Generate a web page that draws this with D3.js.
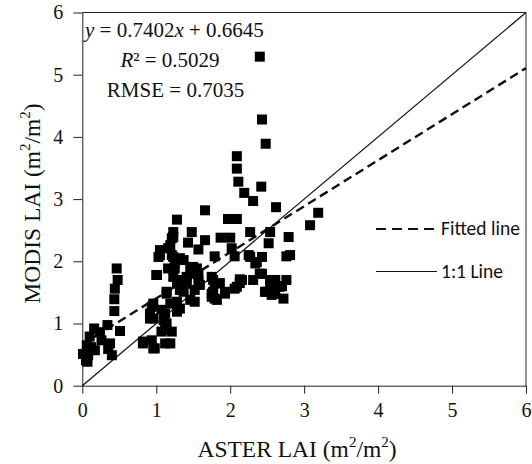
<!DOCTYPE html>
<html>
<head>
<meta charset="utf-8">
<script src="https://cdn.jsdelivr.net/npm/d3@7"></script>
<style>
  html, body { margin: 0; padding: 0; background: #fff; }
  svg { display: block; }
</style>
</head>
<body>
<svg id="chart" width="532" height="464"></svg>
<script>
// ---- data ----
const xTicks = [0, 1, 2, 3, 4, 5, 6];
const yTicks = [0, 1, 2, 3, 4, 5, 6];
const asterLAI = [
  0.01,0.05,0.07,0.08,0.06,0.10,0.16,0.17,0.26,0.34,0.35,0.375,0.40,0.51,0.433,0.433,0.44,0.478,0.465,0.24,0.12,
  0.82,0.82,0.94,0.96,0.98,1.12,1.07,1.12,1.21,1.19,1.14,0.915,0.96,1.10,0.915,1.12,0.94,1.07,0.96,1.19,1.32,1.28,
  1.14,1.37,1.14,1.28,1.41,1.59,1.79,1.52,1.75,1.28,1.46,1.82,1.01,1.00,1.23,1.41,1.57,1.75,1.50,1.16,1.25,1.46,
  1.55,1.50,1.25,1.03,1.23,1.37,1.32,1.05,1.21,1.05,1.16,1.19,1.57,1.43,1.21,1.23,1.23,1.48,1.28,1.66,1.28,1.41,
  1.57,1.77,1.32,1.52,1.75,1.93,1.86,
  1.79,2.06,2.27,2.43,2.76,2.81,2.34,2.36,2.40,2.43,2.13,2.16,2.31,2.54,2.61,2.76,2.70,2.67,2.09,2.06,2.13,2.54,
  2.47,2.49,2.61,2.58,2.72,2.56,1.77,1.79,1.93,1.87,2.00,2.02,2.27,2.54,2.52,2.79,1.97,2.09,2.11,2.09,2.09,2.19,
  2.31,2.42,2.62,2.48,2.43,2.40,3.19,3.08,2.25,1.66
];
const modisLAI = [
  0.51,0.41,0.385,0.49,0.65,0.79,0.92,0.57,0.73,0.975,0.59,0.68,0.49,0.88,1.20,1.39,1.56,1.70,1.885,0.86,0.62,
  0.68,0.71,0.73,0.60,0.60,0.68,0.87,0.895,0.87,0.68,1.00,1.08,1.08,1.055,1.16,1.16,1.27,1.22,1.32,1.32,1.24,1.19,
  1.48,1.51,1.51,1.64,1.64,1.62,1.64,1.35,1.43,1.35,1.38,1.38,1.78,1.78,1.75,1.75,1.78,1.75,1.80,1.885,1.885,1.885,
  1.885,1.91,1.97,2.07,2.07,2.02,2.05,2.10,2.10,2.18,2.21,2.26,2.19,2.30,2.37,2.39,2.47,2.47,2.67,2.82,1.70,1.70,
  1.70,1.70,1.54,1.54,1.48,1.48,1.65,
  2.08,2.08,2.07,2.07,2.08,2.10,1.965,1.99,1.80,1.80,1.71,1.70,1.70,1.70,1.70,1.70,1.60,1.59,1.59,1.56,1.65,1.62,
  1.51,1.51,1.48,1.48,1.40,1.46,1.51,1.40,1.51,2.38,2.38,2.21,2.47,2.47,2.29,2.39,2.68,2.68,3.28,3.49,3.69,3.10,
  2.97,3.20,2.87,3.89,4.28,5.29,2.78,2.58,2.10,2.34
];
const fitSlope = 0.7402;
const fitIntercept = 0.6645;
const fitRange = [0, 6];
const oneToOneRange = [0, 6];
const annotation = ["y = 0.7402x + 0.6645", "R² = 0.5029", "RMSE = 0.7035"];
const legendLabels = ["Fitted line", "1:1 Line"];

// ---- layout ----
const svg = d3.select("#chart");
const mLeft = 82.3, mRight = 526, mTop = 12.5, mBottom = 385.7;
const x = d3.scaleLinear().domain([0, 6]).range([mLeft, mRight]);
const y = d3.scaleLinear().domain([0, 6]).range([mBottom, mTop]);
const serif = "'Liberation Serif', 'Times New Roman', serif";
const sans = "Carlito, Lato, 'Liberation Sans', sans-serif";

// frame (top & right)
svg.append("line").attr("x1", mLeft).attr("x2", mRight).attr("y1", mTop).attr("y2", mTop)
  .attr("stroke", "#222").attr("stroke-width", 1);
svg.append("line").attr("x1", mRight).attr("x2", mRight).attr("y1", mTop).attr("y2", mBottom)
  .attr("stroke", "#222").attr("stroke-width", 1);

// axes
const xAxis = svg.append("g").attr("transform", `translate(0,${mBottom})`)
  .call(d3.axisBottom(x).tickValues(xTicks).tickFormat(d3.format("d")).tickSizeInner(8).tickSizeOuter(0).tickPadding(9));
const yAxis = svg.append("g").attr("transform", `translate(${mLeft},0)`)
  .call(d3.axisLeft(y).tickValues(yTicks).tickFormat(d3.format("d")).tickSizeInner(9).tickSizeOuter(0).tickPadding(10));
[xAxis, yAxis].forEach(g => {
  g.attr("font-family", serif).attr("font-size", 20);
  g.select(".domain").attr("stroke", "#222").attr("stroke-width", 1);
  g.selectAll(".tick line").attr("stroke", "#222").attr("stroke-width", 1);
  g.selectAll(".tick text")
    .style("font-family", serif).style("font-size", "20px").attr("fill", "#111");
});
xAxis.selectAll(".tick text").attr("dy", "0.71em");

// lines
const line = d3.line().x(d => x(d[0])).y(d => y(d[1]));
svg.append("path")
  .datum(oneToOneRange.map(v => [v, v]))
  .attr("d", line).attr("fill", "none").attr("stroke", "#111").attr("stroke-width", 1.2);
svg.append("path")
  .datum(fitRange.map(v => [v, fitSlope * v + fitIntercept]))
  .attr("d", line).attr("fill", "none").attr("stroke", "#111").attr("stroke-width", 2.4)
  .attr("stroke-dasharray", "9,5");

// points
const pts = asterLAI.map((v, i) => [v, modisLAI[i]]);
const s = 10;
svg.append("g").selectAll("rect").data(pts).join("rect")
  .attr("x", d => x(d[0]) - s / 2).attr("y", d => y(d[1]) - s / 2)
  .attr("width", s).attr("height", s).attr("fill", "#000");

// annotation
const ann = svg.append("g").style("font-family", serif).style("font-size", "21px").attr("fill", "#111");
const t1 = ann.append("text").attr("x", 85).attr("y", 37);
t1.append("tspan").attr("font-style", "italic").text("y");
t1.append("tspan").text(" = 0.7402");
t1.append("tspan").attr("font-style", "italic").text("x");
t1.append("tspan").text(" + 0.6645");
const t2 = ann.append("text").attr("x", 170).attr("y", 66.5).attr("text-anchor", "middle");
t2.append("tspan").attr("font-style", "italic").text("R");
t2.append("tspan").text("² = 0.5029");
ann.append("text").attr("x", 175.5).attr("y", 96.5).attr("text-anchor", "middle").text(annotation[2]);

// legend
const lg = svg.append("g");
lg.append("line").attr("x1", 376).attr("x2", 437).attr("y1", 229).attr("y2", 229)
  .attr("stroke", "#111").attr("stroke-width", 2).attr("stroke-dasharray", "10,6");
lg.append("line").attr("x1", 376).attr("x2", 437).attr("y1", 271.5).attr("y2", 271.5)
  .attr("stroke", "#111").attr("stroke-width", 1.2);
lg.append("text").attr("x", 441).attr("y", 235).style("font-family", sans).style("font-size", "19.5px")
  .attr("fill", "#111").text(legendLabels[0]);
lg.append("text").attr("x", 441).attr("y", 278).style("font-family", sans).style("font-size", "19.5px")
  .attr("fill", "#111").text(legendLabels[1]);

// axis titles
const xt = svg.append("text").attr("x", 297).attr("y", 457).attr("text-anchor", "middle")
  .style("font-family", serif).style("font-size", "23.5px").attr("fill", "#111");
xt.append("tspan").text("ASTER LAI (m");
xt.append("tspan").style("font-size", "15px").attr("dy", -10).text("2");
xt.append("tspan").attr("dy", 10).text("/m");
xt.append("tspan").style("font-size", "15px").attr("dy", -10).text("2");
xt.append("tspan").attr("dy", 10).text(")");

const yt = svg.append("text").attr("transform", "translate(40,203.5) rotate(-90)").attr("text-anchor", "middle")
  .style("font-family", serif).style("font-size", "23.5px").attr("fill", "#111");
yt.append("tspan").text("MODIS LAI (m");
yt.append("tspan").style("font-size", "15px").attr("dy", -10).text("2");
yt.append("tspan").attr("dy", 10).text("/m");
yt.append("tspan").style("font-size", "15px").attr("dy", -10).text("2");
yt.append("tspan").attr("dy", 10).text(")");
</script>
</body>
</html>
